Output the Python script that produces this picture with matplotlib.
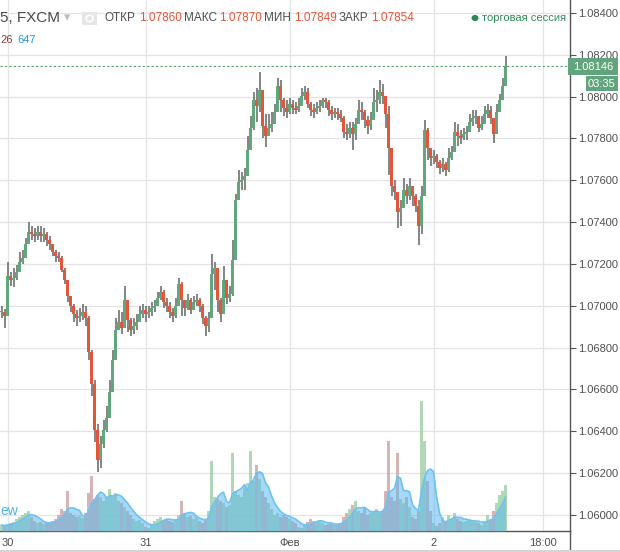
import numpy as np
import pandas as pd
import matplotlib
matplotlib.use("Agg")
import matplotlib.pyplot as plt
from matplotlib.lines import Line2D
from matplotlib.patches import Rectangle, Circle

# EURUSD, 30-min bars, prices in points above 1.06000
close_pts = [971, 951, 1143, 1124, 1133, 1162, 1209, 1229, 1296, 1353,
             1343, 1334, 1353, 1334, 1343, 1315, 1296, 1257, 1238, 1229,
             1171, 1124, 1047, 999, 961, 942, 951, 971, 942, 779,
             626, 406, 263, 339, 406, 464, 588, 741, 884, 923,
             894, 1028, 932, 884, 903, 923, 961, 980, 961, 971,
             990, 999, 1037, 1066, 1018, 999, 971, 951, 999, 1104,
             1028, 990, 1028, 980, 1018, 1028, 999, 942, 903, 942,
             1152, 1181, 1028, 961, 1124, 1037, 1056, 1219, 1506, 1592,
             1601, 1621, 1745, 1850, 1984, 1955, 2032, 1860, 1812, 1850,
             1869, 1927, 2051, 1984, 1946, 1927, 1965, 1946, 1936, 1955,
             2003, 2022, 1965, 1936, 1927, 1946, 1955, 1984, 1974, 1936,
             1917, 1927, 1917, 1898, 1831, 1821, 1850, 1821, 1869, 1936,
             1927, 1888, 1860, 1888, 1974, 1984, 2022, 2003, 1917, 1754,
             1573, 1544, 1448, 1468, 1554, 1525, 1573, 1525, 1477, 1382,
             1525, 1841, 1754, 1707, 1716, 1688, 1659, 1678, 1649, 1707,
             1735, 1831, 1812, 1802, 1821, 1831, 1879, 1898, 1907, 1850,
             1869, 1917, 1936, 1898, 1821, 1927, 1984, 2051, 2146]
high_pts = [999, 985, 1209, 1162, 1181, 1195, 1257, 1267, 1324, 1401,
            1382, 1372, 1382, 1382, 1372, 1353, 1334, 1296, 1267, 1257,
            1238, 1181, 1114, 1047, 1009, 980, 990, 1009, 999, 951,
            789, 645, 435, 378, 454, 521, 645, 789, 942, 980,
            971, 1095, 1028, 942, 942, 961, 999, 1009, 999, 999,
            1018, 1028, 1066, 1095, 1076, 1037, 1018, 990, 1037, 1133,
            1114, 1028, 1056, 1037, 1047, 1056, 1037, 1009, 951, 971,
            1248, 1209, 1143, 1037, 1190, 1114, 1095, 1315, 1535, 1649,
            1640, 1659, 1812, 1907, 2022, 2041, 2118, 1984, 1917, 1917,
            1927, 1965, 2089, 2080, 1994, 1984, 1994, 1984, 1974, 1994,
            2041, 2051, 2041, 1974, 1965, 1974, 1984, 1994, 1994, 1984,
            1955, 1946, 1946, 1936, 1907, 1869, 1879, 1879, 1898, 1984,
            1974, 1936, 1907, 1927, 2041, 2032, 2080, 2060, 2003, 1955,
            1697, 1601, 1525, 1506, 1611, 1582, 1611, 1573, 1535, 1506,
            1573, 1888, 1850, 1754, 1745, 1726, 1697, 1707, 1688, 1754,
            1764, 1879, 1869, 1841, 1850, 1860, 1917, 1936, 1936, 1898,
            1907, 1955, 1965, 1955, 1888, 1965, 2013, 2089, 2194]
low_pts = [942, 894, 1104, 1095, 1090, 1124, 1171, 1200, 1229, 1315,
           1315, 1305, 1315, 1305, 1305, 1286, 1267, 1238, 1209, 1209,
           1162, 1104, 1018, 971, 923, 903, 923, 932, 903, 741,
           569, 349, 205, 225, 320, 397, 492, 655, 836, 884,
           865, 971, 875, 856, 865, 884, 923, 942, 923, 942,
           951, 971, 1009, 1028, 990, 971, 942, 923, 942, 1047,
           951, 951, 980, 961, 980, 999, 971, 913, 856, 875,
           1124, 1076, 971, 923, 1047, 1009, 1018, 1047, 1353, 1525,
           1554, 1554, 1649, 1783, 1841, 1879, 1927, 1802, 1759, 1812,
           1831, 1879, 1946, 1927, 1907, 1898, 1917, 1917, 1917, 1927,
           1965, 1984, 1946, 1907, 1898, 1917, 1927, 1946, 1946, 1907,
           1888, 1898, 1888, 1879, 1802, 1793, 1802, 1745, 1793, 1869,
           1888, 1850, 1821, 1841, 1898, 1927, 1965, 1965, 1850, 1625,
           1525, 1506, 1372, 1382, 1487, 1487, 1506, 1477, 1448, 1291,
           1343, 1659, 1697, 1668, 1678, 1659, 1630, 1640, 1621, 1640,
           1697, 1774, 1764, 1774, 1793, 1793, 1841, 1860, 1869, 1831,
           1841, 1879, 1898, 1869, 1778, 1850, 1927, 1994, 2060]
volume = [6, 5, 7, 8, 9, 12, 14, 16, 18, 20,
          14, 10, 8, 9, 7, 8, 9, 10, 12, 16,
          22, 20, 40, 18, 16, 14, 15, 13, 18, 38,
          55, 32, 36, 34, 30, 34, 42, 36, 38, 30,
          28, 24, 20, 16, 12, 10, 11, 8, 4, 3,
          6, 10, 12, 14, 11, 12, 10, 9, 12, 16,
          30, 18, 14, 15, 12, 14, 10, 8, 12, 20,
          70, 34, 32, 30, 28, 24, 26, 78, 40, 36,
          34, 44, 48, 80, 50, 66, 52, 40, 34, 28,
          22, 16, 18, 14, 16, 14, 12, 10, 8, 4,
          3, 6, 9, 12, 10, 9, 11, 8, 6, 7,
          8, 6, 7, 8, 14, 18, 22, 26, 30, 20,
          18, 24, 16, 18, 20, 22, 18, 20, 40, 90,
          34, 30, 78, 32, 28, 34, 24, 14, 12, 20,
          130, 90, 50, 20, 8, 5, 8, 14, 10, 16,
          12, 18, 12, 10, 9, 10, 12, 10, 9, 8,
          6, 10, 16, 12, 20, 28, 36, 40, 46]

day_labels = ['30', '31', 'Фев', '2', '18:00']
day_bars = [2, 48, 96, 144, 180.5]   # bar index under each label

header_names = ['ОТКР', 'МАКС', 'МИН', 'ЗАКР']
header_values = ['1.07860', '1.07870', '1.07849', '1.07854']

GREEN = '#62a67e'
RED = '#e4553c'
WICK = '#707070'
TXT = '#4f4f4f'

plt.rcParams['font.family'] = ['Liberation Sans', 'DejaVu Sans']

W, H = 620, 552
fig = plt.figure(figsize=(W / 100, H / 100), dpi=100)


def fx(x):
    return x / W


def fy(y):
    return 1 - y / H


rect = [0, fy(531), fx(570), 531 / H]
ax = fig.add_axes(rect)

base = 1.06
c = base + np.array(close_pts) / 1e5
h = base + np.array(high_pts) / 1e5
l = base + np.array(low_pts) / 1e5
o = np.r_[c[0], c[:-1]]
x = np.arange(len(c))
up = c >= o
hi = np.maximum(h, np.maximum(o, c))
lo = np.minimum(l, np.minimum(o, c))

ax.vlines(x, lo, hi, color=WICK, lw=1.2, zorder=3)
body_lo = np.minimum(o, c)
body_h = np.maximum(np.abs(c - o), 0.00003)
ax.bar(x, body_h, bottom=body_lo, width=0.7, color=np.where(up, GREEN, RED),
       linewidth=0, zorder=4)

ax.set_xlim(-0.5, 570 / 3 - 0.5)
ax.set_ylim(base - 77 / 1e5, base + 2462 / 1e5)

yt = np.arange(1.060, 1.0845, 0.002)
ax.set_yticks(yt)
ax.set_yticklabels(['%.5f' % v for v in yt])
ax.yaxis.tick_right()
ax.set_xticks(day_bars)
ax.set_xticklabels(day_labels)
ax.tick_params(axis='y', colors='#555555', labelcolor=TXT, labelsize=8,
               length=4, width=0.8, pad=2)
ax.tick_params(axis='x', colors='#555555', labelcolor=TXT, labelsize=8,
               length=0, pad=5)
ax.grid(True, color='#e4e4e4', lw=0.9, zorder=0)
for s in ['top', 'left']:
    ax.spines[s].set_visible(False)
for s in ['right', 'bottom']:
    ax.spines[s].set_color('#555555')
    ax.spines[s].set_linewidth(1)

# last price line
ax.axhline(c[-1], color='#4f9b70', lw=0.8, ls=(0, (2, 2)), zorder=5)

# volume pane
axv = fig.add_axes(rect)
axv.set_xlim(ax.get_xlim())
axv.set_ylim(0, 531)
axv.axis('off')
axv.patch.set_visible(False)
axv.bar(x, volume, width=0.7, color=np.where(up, '#9ccfa5', '#cda2a2'),
        alpha=0.8, linewidth=0)
ma = pd.Series(volume).rolling(5, min_periods=1).mean()
axv.fill_between(x, 0, ma, color='#5fb9ee', alpha=0.55, lw=0)
axv.plot(x, ma, color='#6cc2f2', lw=1.2)

# price labels on the right scale
fig.add_artist(Rectangle((fx(568), fy(75)), fx(50), 17 / H,
                         transform=fig.transFigure, fc='#62a47e', ec='none'))
fig.text(fx(593), fy(66.5), '%.5f' % c[-1], color='white', fontsize=8,
         ha='center', va='center')
fig.add_artist(Rectangle((fx(586), fy(91)), fx(32), 15 / H,
                         transform=fig.transFigure, fc='#62a47e', ec='none'))
fig.text(fx(602), fy(83.5), '03:35', color='white', fontsize=8,
         ha='center', va='center')

# header
fig.text(0, fy(18), '5, FXCM', color='#4a4a4a', fontsize=11,
         ha='left', va='center')
fig.text(fx(64), fy(18), '▾', color='#bdbdbd', fontsize=9,
         ha='left', va='center', family='DejaVu Sans')
fig.add_artist(Rectangle((fx(82), fy(25)), fx(15), 13 / H,
                         transform=fig.transFigure, fc='#e6e6e6', ec='none'))
fig.add_artist(Circle((fx(89.5), fy(18.5)), fx(3.5), transform=fig.transFigure,
                      fc='none', ec='white', lw=1.2))
name_x = [104, 184, 264, 339]
val_x = [139, 219, 294, 371]
for nm, v, nx, vx in zip(header_names, header_values, name_x, val_x):
    fig.text(fx(nx), fy(18), nm, color=TXT, fontsize=8.5, ha='left', va='center')
    fig.text(fx(vx), fy(18), v, color=RED, fontsize=8.5, ha='left', va='center')

fig.text(0, fy(40), '26', color='#8e3b3b', fontsize=8, ha='left', va='center')
fig.text(fx(17), fy(40), '647', color='#2196f3', fontsize=8, ha='left', va='center')

fig.add_artist(Circle((fx(475), fy(18)), fx(3.5), transform=fig.transFigure,
                      fc='#2f8a5a', ec='none'))
fig.text(fx(482), fy(18), 'торговая сессия', color='#2f8a5a', fontsize=8,
         ha='left', va='center')

fig.text(0, fy(511), 'ew', color='#4fb6ea', fontsize=10, ha='left', va='center')

# frame lines below the time scale
fig.add_artist(Line2D([fx(570), fx(570)], [fy(531), 0], color='#555555', lw=1))
fig.add_artist(Line2D([0, 1], [fy(550.5), fy(550.5)], color='#d5d5d5', lw=1.5))

fig.savefig('out.png', dpi=100)
